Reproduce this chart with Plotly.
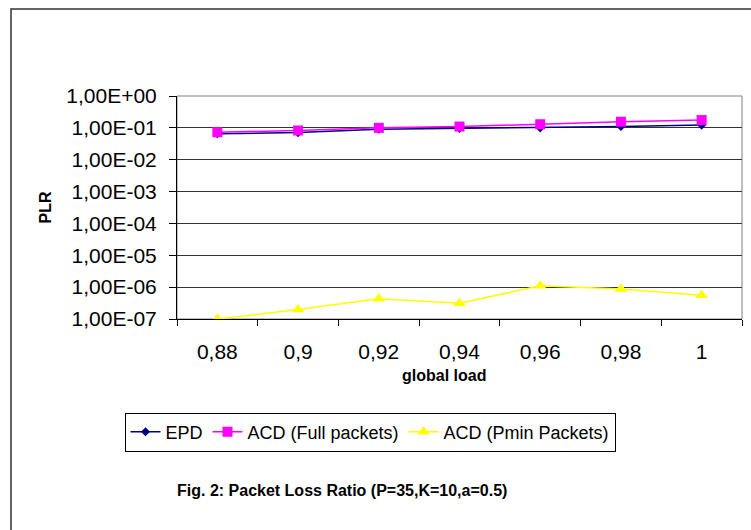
import plotly.graph_objects as go

categories = ["0,88", "0,9", "0,92", "0,94", "0,96", "0,98", "1"]
epd = [0.065, 0.071, 0.09, 0.095, 0.1, 0.11, 0.122]
acd_full = [0.073, 0.083, 0.1, 0.11, 0.13, 0.156, 0.176]
acd_pmin = [1.0e-7, 2.0e-7, 4.3e-7, 3.1e-7, 1.1e-6, 8.7e-7, 5.6e-7]
ytick_vals = [1e0, 1e-1, 1e-2, 1e-3, 1e-4, 1e-5, 1e-6, 1e-7]
ytick_text = ["1,00E+00", "1,00E-01", "1,00E-02", "1,00E-03", "1,00E-04",
              "1,00E-05", "1,00E-06", "1,00E-07"]

W, H = 751, 530
L, R, T, B = 177, 742, 96, 319

fig = go.Figure()
fig.add_trace(go.Scatter(x=categories, y=epd, name="EPD", mode="lines+markers",
                         line=dict(color="#000080", width=1.5),
                         marker=dict(symbol="diamond", size=7, color="#000080")))
fig.add_trace(go.Scatter(x=categories, y=acd_full, name="ACD (Full packets)", mode="lines+markers",
                         line=dict(color="#FF00FF", width=1.5),
                         marker=dict(symbol="square", size=10, color="#FF00FF")))
fig.add_trace(go.Scatter(x=categories, y=acd_pmin, name="ACD (Pmin Packets)", mode="lines+markers",
                         line=dict(color="#FFFF00", width=1.5),
                         marker=dict(symbol="triangle-up", size=11, color="#FFFF00")))

font = "Liberation Sans, Arial, sans-serif"
fig.update_layout(
    width=W, height=H, autosize=False,
    margin=dict(l=L, r=W - R, t=T, b=H - B, pad=0),
    paper_bgcolor="white", plot_bgcolor="white",
    font=dict(family=font, color="black", size=21),
    showlegend=True,
    legend=dict(orientation="h", x=370 / W, xanchor="center", xref="container",
                y=1 - 432 / H, yanchor="middle", yref="container",
                bordercolor="black", borderwidth=1,
                font=dict(size=18, family=font), itemwidth=30,
                tracegroupgap=0),
    xaxis=dict(type="category", range=[-0.5, 6.5], showgrid=False,
               showline=True, linecolor="black", linewidth=1,
               ticks="outside", ticklen=6, tickcolor="black", tickson="boundaries",
               tickfont=dict(size=21), ticklabelstandoff=14, zeroline=False),
    yaxis=dict(type="log", range=[-7, 0], tickvals=ytick_vals, ticktext=ytick_text,
               showgrid=True, gridcolor="#333333", gridwidth=1,
               showline=True, linecolor="black", linewidth=1,
               ticks="outside", ticklen=7, tickcolor="black",
               tickfont=dict(size=21), ticklabelstandoff=8, zeroline=False),
    shapes=[
        dict(type="rect", xref="paper", yref="paper", x0=0, x1=1, y0=0, y1=1,
             line=dict(color="#808080", width=1), layer="below"),
        dict(type="rect", xref="paper", yref="paper",
             x0=(11 - L) / (R - L), x1=(W + 20 - L) / (R - L),
             y0=(B - (H + 20)) / (B - T), y1=(B - 9) / (B - T),
             line=dict(color="#333333", width=1.5)),
    ],
    annotations=[
        dict(text="<b>PLR</b>", xref="paper", yref="paper",
             x=(45 - L) / (R - L), y=0.5, textangle=-90, showarrow=False,
             xanchor="center", yanchor="middle", font=dict(size=16)),
        dict(text="<b>global load</b>", xref="paper", yref="paper",
             x=(444 - L) / (R - L), y=(B - 375) / (B - T), showarrow=False,
             xanchor="center", yanchor="middle", font=dict(size=16)),
        dict(text="<b>Fig. 2: Packet Loss Ratio (P=35,K=10,a=0.5)</b>", xref="paper", yref="paper",
             x=(342 - L) / (R - L), y=(B - 490) / (B - T), showarrow=False,
             xanchor="center", yanchor="middle", font=dict(size=16)),
    ],
)

fig.write_html("out.html", config={"displayModeBar": False},
               post_script="document.body.style.margin='0';document.body.style.padding='0';")
